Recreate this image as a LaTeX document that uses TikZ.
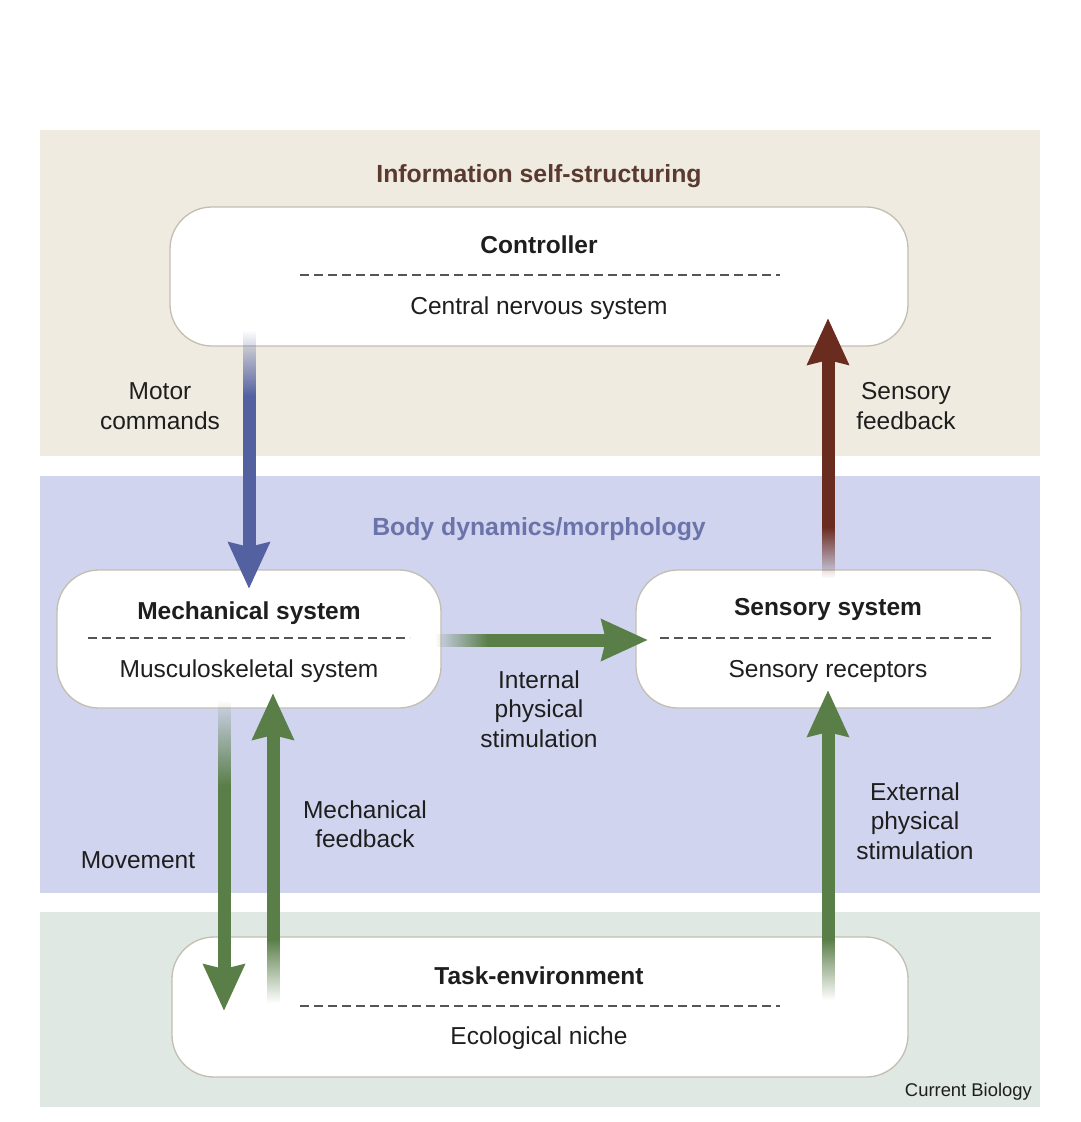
\documentclass[tikz,border=0pt]{standalone}
\usepackage{fontspec}
\setmainfont{Liberation Sans}
\usetikzlibrary{arrows.meta,fadings,calc}
\definecolor{bandtop}{HTML}{EFEBE1}
\definecolor{bandmid}{HTML}{D0D4EE}
\definecolor{bandbot}{HTML}{DFE8E2}
\definecolor{boxline}{HTML}{C2BFB0}
\definecolor{txt}{HTML}{1E1E1E}
\definecolor{dashcol}{HTML}{555555}
\definecolor{motorc}{HTML}{5461A0}
\definecolor{sensc}{HTML}{6A2C1F}
\definecolor{greenc}{HTML}{5A7E48}
\definecolor{infoc}{HTML}{5A3A2E}
\definecolor{bodyc}{HTML}{6B74AA}
\tikzfading[name=fadetop, top color=transparent!100, bottom color=transparent!0]
\tikzfading[name=fadebot, top color=transparent!0, bottom color=transparent!100]
\tikzfading[name=fadeleft, left color=transparent!100, right color=transparent!0]
\begin{document}
\begin{tikzpicture}[x=1pt,y=-1pt,
  box/.style={draw=boxline, line width=1.3pt, fill=white, rounded corners=42pt, inner sep=0pt},
  lbl/.style={font=\fontsize{24.5}{29.5}\selectfont, text=txt, align=center, inner sep=0pt},
  ttl/.style={font=\fontsize{24.5}{28}\selectfont\bfseries, text=txt, inner sep=0pt},
  sepline/.style={dash pattern=on 9pt off 5pt, line width=1.6pt, draw=dashcol},
  arr/.style={line width=13pt, -{Stealth[length=46pt,width=40pt,inset=4pt]}},
]
\useasboundingbox (0,0) rectangle (1080,1122);
\fill[white] (0,0) rectangle (1080,1122);
% bands
\fill[bandtop] (40,130) rectangle (1040,456);
\fill[bandmid] (40,476) rectangle (1040,893);
\fill[bandbot] (40,912) rectangle (1040,1107);
\node[font=\fontsize{24.8}{28}\selectfont\bfseries, text=infoc, inner sep=0pt] (info) at (539,176) {Information self-structuring};
\node[font=\fontsize{24.8}{28}\selectfont\bfseries, text=bodyc, inner sep=0pt] (body) at (539,529) {Body dynamics/morphology};
% boxes
\node[box, minimum width=738pt, minimum height=139pt] (ctrl) at (539,276.5) {};
\node[box, minimum width=384pt, minimum height=138pt] (mech) at (249,639) {};
\node[box, minimum width=385pt, minimum height=138pt] (sens) at (828.5,639) {};
\node[box, minimum width=736pt, minimum height=140pt] (task) at (540,1007) {};
% box texts
\node[ttl] (ctrlT) at (539,245) {Controller};
\node[lbl] (ctrlS) at (539,308) {Central nervous system};
\draw[sepline] (300,275) -- (780,275);
\node[ttl] (mechT) at (249,613) {Mechanical system};
\node[lbl] (mechS) at (249,671) {Musculoskeletal system};
\draw[sepline] (88,638) -- (410,638);
\node[ttl] (sensT) at (828,609) {Sensory system};
\node[lbl] (sensS) at (828,671) {Sensory receptors};
\draw[sepline] (660,638) -- (995,638);
\node[ttl] (taskT) at (539,976) {Task-environment};
\node[lbl] (taskS) at (539,1038) {Ecological niche};
\draw[sepline] (300,1006) -- (780,1006);
% arrow coordinates
\coordinate (mcA) at (249,330); \coordinate (mcB) at (249,395); \coordinate (mcT) at (249,589);
\coordinate (sfA) at (828,578); \coordinate (sfB) at (828,528); \coordinate (sfT) at (828,318);
\coordinate (inA) at (435,640); \coordinate (inB) at (487,640); \coordinate (inT) at (648,640);
\coordinate (mvA) at (224,700); \coordinate (mvB) at (224,785); \coordinate (mvT) at (224,1011);
\coordinate (mfA) at (273,1003); \coordinate (mfB) at (273,940); \coordinate (mfT) at (273,693);
\coordinate (exA) at (828,1000); \coordinate (exB) at (828,940); \coordinate (exT) at (828,690);
% motor commands
\fill[motorc, path fading=fadetop] ($(mcA)+(-6.5,0)$) rectangle ($(mcB)+(6.5,1)$);
\draw[arr, motorc] (mcB) -- (mcT);
% sensory feedback
\fill[sensc, path fading=fadebot] ($(sfA)+(-6.5,0)$) rectangle ($(sfB)+(6.5,-1)$);
\draw[arr, sensc] (sfB) -- (sfT);
% internal
\fill[greenc, path fading=fadeleft] ($(inA)+(0,-6.5)$) rectangle ($(inB)+(1,6.5)$);
\draw[arr, greenc] (inB) -- (inT);
% movement
\fill[greenc, path fading=fadetop] ($(mvA)+(-6.5,0)$) rectangle ($(mvB)+(6.5,1)$);
\draw[arr, greenc] (mvB) -- (mvT);
% mechanical feedback
\fill[greenc, path fading=fadebot] ($(mfA)+(-6.5,0)$) rectangle ($(mfB)+(6.5,-1)$);
\draw[arr, greenc] (mfB) -- (mfT);
% external
\fill[greenc, path fading=fadebot] ($(exA)+(-6.5,0)$) rectangle ($(exB)+(6.5,-1)$);
\draw[arr, greenc] (exB) -- (exT);
% labels
\node[lbl] (lmc) at (160,406) {Motor\\commands};
\node[lbl] (lsf) at (906,406) {Sensory\\feedback};
\node[lbl] (lin) at (539,709) {Internal\\physical\\stimulation};
\node[lbl] (lmf) at (365,824) {Mechanical\\feedback};
\node[lbl] (lmv) at (138,860) {Movement};
\node[lbl] (lex) at (915,821) {External\\physical\\stimulation};
\node[font=\fontsize{18.4}{20}\selectfont, text=txt, inner sep=0pt, anchor=east] (cb) at (1032,1092) {Current Biology};
\end{tikzpicture}
\end{document}
